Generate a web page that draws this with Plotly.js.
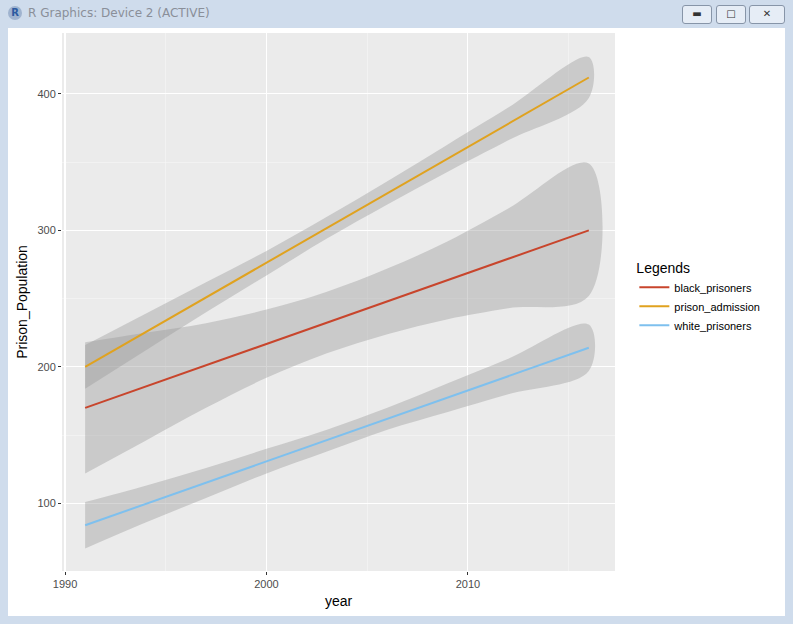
<!DOCTYPE html>
<html>
<head>
<meta charset="utf-8">
<script src="https://cdn.plot.ly/plotly-3.0.1.min.js"></script>
<style>
  body { margin:0; width:793px; height:624px; background:#cfdcec; font-family:"Segoe UI","DejaVu Sans",sans-serif; overflow:hidden; position:relative; }
  #bar { position:absolute; left:0; top:0; width:793px; height:28px; }
  #bar .t { position:absolute; left:28px; top:6px; font-size:12px; color:#8a8f99; }
  #bar .ic { position:absolute; left:8px; top:6px; width:14px; height:14px; border-radius:7px; background:#9fb3cf; color:#2c5aa0; font-size:10px; font-weight:bold; text-align:center; line-height:14px; }
  .btn { position:absolute; top:5px; height:17px; border:1px solid #8795a8; border-radius:3px; background:#e6edf6; font-size:10px; text-align:center; line-height:16px; color:#333; }
  #chart { position:absolute; left:8px; top:28px; width:777px; height:588px; background:#fff; }
</style>
</head>
<body>
<div id="bar"><div class="ic">R</div><div class="t">R Graphics: Device 2 (ACTIVE)</div>
  <div class="btn" style="left:682px;width:28px">&#9644;</div>
  <div class="btn" style="left:716px;width:28px">&#9633;</div>
  <div class="btn" style="left:749px;width:34px">&#10005;</div>
</div>
<div id="chart"></div>
<script>
// values
const years = [1991, 1994, 1997, 2000, 2003, 2006, 2009, 2012, 2016];

const blackMid = [170, 185.6, 201.2, 216.8, 232.4, 248, 263.6, 279.2, 300];
const blackLo  = [122, 146, 170, 192, 210, 224, 235, 243, 252];
const blackHi  = [218, 225, 232, 242, 255, 272, 292, 316, 349];

const admMid = [200, 225.4, 250.9, 276.3, 301.8, 327.2, 352.6, 378.1, 412];
const admLo  = [184, 212, 240, 267, 294, 319, 343, 366, 397];
const admHi  = [216, 239, 262, 285, 310, 336, 363, 390, 427];

const whiteMid = [84, 99.6, 115.2, 130.8, 146.4, 162, 177.6, 193.2, 214];
const whiteLo  = [67, 86, 104, 122, 138, 154, 167, 180, 197];
const whiteHi  = [101, 113, 126, 140, 154, 170, 188, 206, 231];

const ribbonFill = 'rgba(153,153,153,0.4)';

function ribbon(lo, hi){
    return {
        x: years.concat(years.slice().reverse()),
        y: lo.concat(hi.slice().reverse()),
        type: 'scatter', mode: 'lines', fill: 'toself', line: {width: 0, shape: 'spline'},
        fillcolor: ribbonFill, hoverinfo: 'skip', showlegend: false
    };
}
function line(y, name, color){
    return { x: years, y: y, type: 'scatter', mode: 'lines', name: name,
        line: {color: color, width: 2} };
}

const data = [
    ribbon(blackLo, blackHi), ribbon(admLo, admHi), ribbon(whiteLo, whiteHi),
    line(blackMid, 'black_prisoners', '#c8452c'),
    line(admMid, 'prison_admission', '#e0a21f'),
    line(whiteMid, 'white_prisoners', '#7ec0ee')
];

const layout = {
    width: 777, height: 588,
    margin: {l: 54, r: 170, t: 5, b: 45},
    paper_bgcolor: '#ffffff', plot_bgcolor: '#ebebeb',
    font: {family: 'Liberation Sans, Arial, sans-serif', color: '#4d4d4d', size: 11},
    xaxis: {
        range: [1989.85, 2017.3], tickvals: [1990, 2000, 2010],
        gridcolor: '#ffffff', gridwidth: 1.1, zeroline: false, ticks: 'outside', ticklen: 3, tickcolor: '#333',
        minor: {tickvals: [1995, 2005, 2015], gridcolor: '#f7f7f7', gridwidth: 0.6, ticks: ''},
        title: {text: 'year', font: {size: 14, color: '#000'}, standoff: 6}
    },
    yaxis: {
        range: [50.5, 444.6], tickvals: [100, 200, 300, 400],
        gridcolor: '#ffffff', gridwidth: 1.1, zeroline: false, ticks: 'outside', ticklen: 3, tickcolor: '#333',
        minor: {tickvals: [150, 250, 350], gridcolor: '#f7f7f7', gridwidth: 0.6, ticks: ''},
        title: {text: 'Prison_Population', font: {size: 14, color: '#000'}, standoff: 6}
    },
    legend: {
        x: 1.035, xanchor: 'left', y: 0.588, yanchor: 'top',
        title: {text: 'Legends', font: {size: 14, color: '#000'}},
        font: {size: 11, color: '#000'}, bgcolor: 'rgba(0,0,0,0)', tracegroupgap: 2
    },
    showlegend: true
};

Plotly.newPlot('chart', data, layout, {staticPlot: true});
</script>
</body>
</html>
